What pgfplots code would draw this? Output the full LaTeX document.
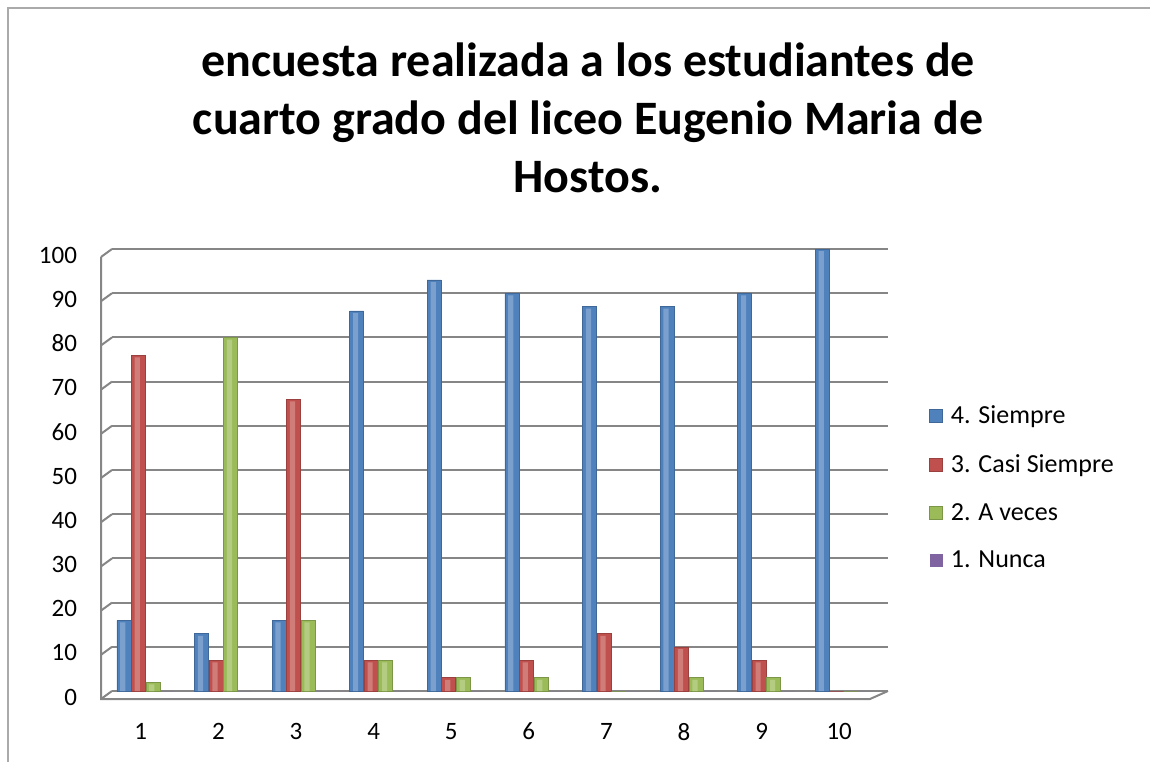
\documentclass[border=0pt]{standalone}
\usepackage{pgfplots}
\pgfplotsset{compat=1.18}
\usepackage{fontspec}
\setmainfont{Carlito}
\definecolor{cblue}{RGB}{79,129,189}
\definecolor{cred}{RGB}{192,80,77}
\definecolor{cgreen}{RGB}{155,187,89}
\definecolor{cpurple}{RGB}{128,100,162}
\definecolor{gridc}{RGB}{134,134,134}
\begin{document}
\begin{tikzpicture}
\path[use as bounding box] (0,0) rectangle (575pt,381pt);
\draw[gridc!70,line width=0.8pt] (4pt,0) -- (4pt,377pt) -- (575pt,377pt);
\node[font=\fontsize{24}{29}\selectfont\bfseries,align=center] at (294pt,322pt)
 {encuesta realizada a los estudiantes de\\cuarto grado del liceo Eugenio Maria de\\Hostos.};
\begin{axis}[
  at={(56pt,35.5pt)}, anchor=origin,
  scale only axis, width=388pt, height=221pt,
  xmin=0.5, xmax=10.5, ymin=0, ymax=100,
  xtick={1,...,10}, ytick={0,10,...,100},
  axis line style={draw=none},
  major tick length=0pt,
  ymajorgrids, grid style={gridc,line width=1pt},
  ybar, bar width=7pt,
  font=\fontsize{12.5}{14}\selectfont,
  /pgf/number format/assume math mode=true,
  yticklabel style={xshift=-14pt,yshift=-3pt},
  xticklabel style={xshift=-5pt,yshift=-12.5pt},
  clip=false,
  legend style={at={(1.045,0.665)},anchor=north west,draw=none,fill=none,
    row sep=10pt, font=\fontsize{13}{15}\selectfont,
    nodes={inner xsep=4pt}},
  legend cell align=left,
  legend image code/.code={\fill[#1] (0pt,-3.25pt) rectangle (6.5pt,3.25pt);},
]
\pgfplotsinvokeforeach{0,10,...,100}{
  \draw[gridc,line width=1pt] (axis cs:0.5,#1) -- ++(-5.5pt,-4pt);
}
\draw[gridc,line width=1pt] ([shift={(-5.5pt,-4pt)}]axis cs:0.5,100) -- ([shift={(-5.5pt,-4pt)}]axis cs:0.5,0)
  -- ([shift={(-9pt,-4pt)}]axis cs:10.5,0) -- (axis cs:10.5,0);
\addplot[bar shift=-13.5pt, draw=cblue!80!black, line width=0.3pt, fill=cblue]
 coordinates {(1,16)(2,13)(3,16)(4,86)(5,93)(6,90)(7,87)(8,87)(9,90)(10,100)};
\addplot[bar shift=-6.25pt, draw=cred!80!black, line width=0.3pt, fill=cred]
 coordinates {(1,76)(2,7)(3,66)(4,7)(5,3)(6,7)(7,13)(8,10)(9,7)(10,0)};
\addplot[bar shift=1pt, draw=cgreen!80!black, line width=0.3pt, fill=cgreen]
 coordinates {(1,2)(2,80)(3,16)(4,7)(5,3)(6,3)(7,0)(8,3)(9,3)(10,0)};
\addplot[bar shift=8.25pt, draw=none, fill=cpurple]
 coordinates {(1,0)(2,0)(3,0)(4,0)(5,0)(6,0)(7,0)(8,0)(9,0)(10,0)};
\legend{4. Siempre,3. Casi Siempre,2. A veces,1. Nunca}
% highlights (cylinder look)
\addplot[bar shift=-14pt, bar width=2.6pt, draw=none, fill=cblue!75!white, forget plot]
 coordinates {(1,15.5)(2,12.5)(3,15.5)(4,85.5)(5,92.5)(6,89.5)(7,86.5)(8,86.5)(9,89.5)(10,99.5)};
\addplot[bar shift=-6.75pt, bar width=2.6pt, draw=none, fill=cred!75!white, forget plot]
 coordinates {(1,75.5)(2,6.5)(3,65.5)(4,6.5)(5,2.5)(6,6.5)(7,12.5)(8,9.5)(9,6.5)};
\addplot[bar shift=0.5pt, bar width=2.6pt, draw=none, fill=cgreen!75!white, forget plot]
 coordinates {(1,1.5)(2,79.5)(3,15.5)(4,6.5)(5,2.5)(6,2.5)(8,2.5)(9,2.5)};
\end{axis}
\end{tikzpicture}
\end{document}
